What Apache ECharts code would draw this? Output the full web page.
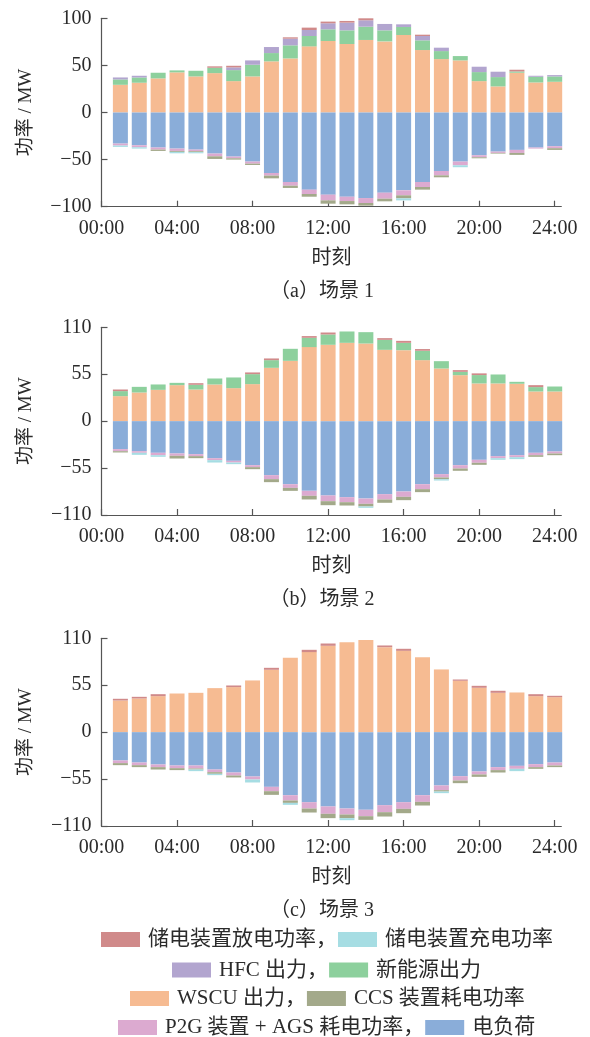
<!DOCTYPE html>
<html>
<head>
<meta charset="utf-8">
<script src="https://cdn.jsdelivr.net/npm/echarts@6/dist/echarts.min.js"></script>
<style>
html,body{margin:0;padding:0;background:#fff;overflow:hidden;}
#c{width:590px;height:1037px;}
</style>
</head>
<body>
<div id="c"></div>
<script>
// ---------- data ----------
const hours = [1,2,3,4,5,6,7,8,9,10,11,12,13,14,15,16,17,18,19,20,21,22,23,24];
const xTicks = [0,4,8,12,16,20,24];

const seriesNames = ['WSCU 出力','新能源出力','HFC 出力','储电装置放电功率','电负荷','P2G 装置 + AGS 耗电功率','CCS 装置耗电功率','储电装置充电功率'];
const seriesColors = ['#f6bb92','#8dd09d','#b2a5cf','#d08a8a','#8aadd9','#dcaad0','#a3a98a','#a6dde3'];

// scenario 1
const s1WSCU  = [29.4,31.6,36.2,42.6,38.3,41.8,33.3,38.3,54.3,57.4,70.2,75.9,72.7,77.0,75.5,82.3,66.3,56.7,55.3,33.3,27.7,42.2,31.9,32.6];
const s1Green = [5.7,5.6,6.0,2.1,6.0,5.7,11.7,12.4,8.8,13.9,11.0,12.4,14.5,14.1,11.7,8.5,10.3,8.5,4.6,9.6,9.9,1.4,6.0,5.7];
const s1HFC   = [2.1,1.8,0,0,0,0,2.9,4.6,6.4,7.1,6.4,6.4,8.2,6.8,6.8,2.8,4.6,3.6,0,5.7,5.7,0,1.1,1.4];
const s1Dis   = [0,0,0,0,0,1.5,1.7,0,0,1.4,2.5,1.8,1.8,2.1,0,0,1.4,0,0,0,0,1.8,0,0];
const s1Load  = [-33.0,-34.8,-37.2,-38.3,-39.4,-43.6,-46.8,-52.1,-64.2,-73.8,-81.9,-87.2,-89.4,-90.8,-85.1,-82.6,-73.8,-62.1,-52.1,-45.4,-41.5,-39.7,-37.2,-35.8];
const s1P2G   = [-2.1,-2.1,-2.2,-2.5,-1.7,-2.9,-1.8,-2.2,-2.8,-3.9,-4.6,-6.1,-4.6,-5.3,-6.4,-5.3,-5.3,-4.6,-3.9,-2.1,-1.4,-3.2,-1.1,-2.1];
const s1CCS   = [0,0,-1.4,-1.0,-1.0,-2.8,-1.4,-1.4,-2.9,-2.4,-2.9,-3.5,-3.5,-2.8,-2.8,-3.2,-2.8,-2.1,0,-1.1,-0.7,-2.1,0,-1.8];
const s1Chg   = [-1.4,-1.4,0,-1.5,-1.2,0,0,0,0,0,0,0,0,0,0,-2.2,0,0,-2.1,0,0,0,0,0];

// scenario 2
const s2WSCU  = [29.3,33.6,36.7,42.2,37.1,43.0,38.7,43.4,62.5,70.7,86.8,89.5,91.8,91.0,83.6,83.2,71.5,61.7,53.9,44.2,44.2,43.8,34.8,34.8];
const s2Green = [5.9,6.6,6.3,2.7,5.5,7.0,12.5,11.7,9.0,14.1,10.9,12.1,13.3,13.3,11.7,8.6,11.0,8.6,3.9,9.8,10.5,2.3,5.1,5.8];
const s2HFC   = [0,0,0,0,0,0,0,0,0,0,0,0,0,0,0,0,0,0,0,0,0,0,0,0];
const s2Dis   = [1.9,0,0,0,1.9,0,0,2.0,2.0,0,2.0,2.3,0,0,2.0,2.3,2.0,0,2.0,2.0,0,0,2.3,0];
const s2Load  = [-32.8,-35.2,-37.1,-37.9,-38.7,-43.4,-46.5,-51.6,-63.3,-73.9,-81.7,-87.1,-89.1,-90.7,-85.6,-82.5,-73.9,-62.1,-51.6,-45.3,-41.0,-39.9,-37.1,-35.6];
const s2P2G   = [-2.4,-1.9,-2.8,-2.7,-2.3,-2.3,-2.0,-2.3,-4.7,-4.3,-5.8,-6.7,-5.9,-6.2,-6.2,-6.2,-5.8,-3.9,-3.9,-3.5,-2.4,-2.3,-2.8,-2.3];
const s2CCS   = [-1.5,0,0,-3.2,-2.4,0,0,-2.4,-3.5,-3.5,-4.3,-4.7,-3.9,-3.1,-3.9,-3.9,-3.5,-2.0,-2.7,-2.4,0,0,-1.9,-2.0];
const s2Chg   = [0,-2.4,-1.9,0,0,-2.8,-1.9,0,0,0,0,0,0,-1.6,0,0,0,-1.6,0,0,-1.9,-2.3,0,0];

// scenario 3
const s3WSCU  = [37.1,39.5,42.2,45.3,46.1,51.6,52.8,60.6,73.1,87.1,93.8,101.2,105.5,107.9,99.6,95.3,87.9,73.5,60.2,52.0,46.1,46.5,42.2,41.0];
const s3Green = [0,0,0,0,0,0,0,0,0,0,0,0,0,0,0,0,0,0,0,0,0,0,0,0];
const s3HFC   = [0,0,0,0,0,0,0,0,0,0,0,0,0,0,0,0,0,0,0,0,0,0,0,0];
const s3Dis   = [2.0,1.9,2.3,0,0,0,1.9,0,2.3,0,2.7,2.7,0,0,2.0,2.4,0,0,1.5,2.3,2.4,0,2.3,1.6];
const s3Load  = [-33.2,-35.6,-37.9,-39.1,-39.1,-43.8,-47.3,-52.0,-64.1,-73.9,-82.1,-87.1,-89.5,-91.0,-85.6,-82.1,-73.9,-62.5,-51.6,-46.1,-41.0,-39.5,-37.5,-35.6];
const s3P2G   = [-3.1,-3.1,-3.1,-3.1,-3.5,-3.1,-3.5,-3.5,-5.1,-6.2,-7.4,-8.6,-7.0,-7.5,-8.2,-7.8,-7.8,-5.5,-5.1,-3.5,-3.5,-3.5,-3.5,-3.5];
const s3CCS   = [-2.4,-2.3,-2.8,-2.3,-1.2,-1.9,-2.3,0,-4.3,-2.8,-4.7,-5.1,-4.3,-4.3,-5.1,-5.1,-4.3,-1.6,-3.1,-2.8,-2.8,0,-2.0,-1.9];
const s3Chg   = [0,0,0,0,-1.9,-1.6,0,-3.5,0,-2.3,0,0,-2.4,0,0,0,0,-1.9,0,0,0,-2.7,0,0];

const scenarioCaptions = ['（a）场景 1','（b）场景 2','（c）场景 3'];
const yRanges = [[-100,100,50],[-110,110,55],[-110,110,55]];

const scenarios = [
  [s1WSCU,s1Green,s1HFC,s1Dis,s1Load,s1P2G,s1CCS,s1Chg],
  [s2WSCU,s2Green,s2HFC,s2Dis,s2Load,s2P2G,s2CCS,s2Chg],
  [s3WSCU,s3Green,s3HFC,s3Dis,s3Load,s3P2G,s3CCS,s3Chg]
];

// legend rows (names)
const legendRows = [
  ['储电装置放电功率','储电装置充电功率'],
  ['HFC 出力','新能源出力'],
  ['WSCU 出力','CCS 装置耗电功率'],
  ['P2G 装置 + AGS 耗电功率','电负荷']
];

// ---------- layout ----------
const FONT = '"Liberation Serif","Times New Roman","Noto Sans CJK SC",serif';
const TXT = '#2b2b2b';
const AX = '#555';
const gridTops = [18.3, 327.3, 638.3];
const gridH = [188.4, 187.7, 187.7];
const gridLeft = 101.5, gridW = 459.8, xMax = 24.35;
const captionTops = [277, 585, 896];
const legendTops = [929, 959.5, 988, 1017];
const legendCenter = 327;
const LFS = 21;

const chart = echarts.init(document.getElementById('c'), null, {renderer:'canvas'});

const grids = [], xAxes = [], yAxes = [], series = [], titles = [];
for (let s = 0; s < 3; s++) {
  grids.push({left: gridLeft, top: gridTops[s], width: gridW, height: gridH[s], containLabel:false});
  xAxes.push({
    type:'value', gridIndex:s, min:0, max:xMax,
    name:'时刻', nameLocation:'middle', nameGap:42,
    nameTextStyle:{fontFamily:FONT, fontSize:20, color:TXT},
    axisLine:{show:true, onZero:false, lineStyle:{color:AX, width:1.2}},
    axisTick:{show:true, inside:true, length:6, customValues:xTicks, lineStyle:{color:AX, width:1.2}},
    axisLabel:{customValues:xTicks, margin:12, fontFamily:FONT, fontSize:20, color:TXT,
      formatter: v => String(v).padStart(2,'0') + ':00'},
    splitLine:{show:false}
  });
  const r = yRanges[s];
  yAxes.push({
    type:'value', gridIndex:s, min:r[0], max:r[1], interval:r[2],
    name:'功率 / MW', nameLocation:'middle', nameRotate:90, nameGap:66,
    nameTextStyle:{fontFamily:FONT, fontSize:19, color:TXT},
    axisLine:{show:true, lineStyle:{color:AX, width:1.2}},
    axisTick:{show:true, inside:true, length:6, lineStyle:{color:AX, width:1.2}},
    axisLabel:{margin:10, fontFamily:FONT, fontSize:20, color:TXT,
      formatter: v => v < 0 ? '\u2212' + Math.abs(v) : String(v)},
    splitLine:{show:false}
  });
  titles.push({
    text: scenarioCaptions[s], left: 317, top: captionTops[s], textAlign:'center',
    textStyle:{fontFamily:FONT, fontSize:20, fontWeight:'normal', color:TXT}
  });
  scenarios[s].forEach((arr, k) => {
    series.push({
      type:'bar', name: seriesNames[k], xAxisIndex:s, yAxisIndex:s, stack:'st'+s,
      barWidth:15, itemStyle:{color: seriesColors[k]},
      // value first so that the y value is the stacked dimension; hour mapped to x
      encode:{x:1, y:0},
      data: hours.map((h,i) => [arr[i] === 0 ? '-' : arr[i], h])
    });
  });
}

// measure legend widths to center rows
const cv = document.createElement('canvas').getContext('2d');
cv.font = LFS + 'px ' + FONT;
const IW = 39, IH = 15, PADL = 3, GAP = 1;
const legends = legendRows.map((row, ri) => {
  const labels = [row[0] + '，', row[1]];
  const w = labels.reduce((a, t) => a + IW + 5 + PADL + cv.measureText(t).width, 0) + GAP;
  return {
    data: row, orient:'horizontal', left: Math.round(legendCenter - w/2), top: legendTops[ri],
    itemWidth: IW, itemHeight: IH, itemGap: GAP, icon:'rect', padding:0,
    selectedMode:false,
    formatter: name => name === row[0] ? name + '，' : name,
    textStyle:{fontFamily:FONT, fontSize:LFS, color:TXT, padding:[0,0,0,PADL]}
  };
});

chart.setOption({
  animation:false,
  backgroundColor:'#fff',
  title: titles,
  legend: legends,
  grid: grids,
  xAxis: xAxes,
  yAxis: yAxes,
  series: series
});
</script>
</body>
</html>
